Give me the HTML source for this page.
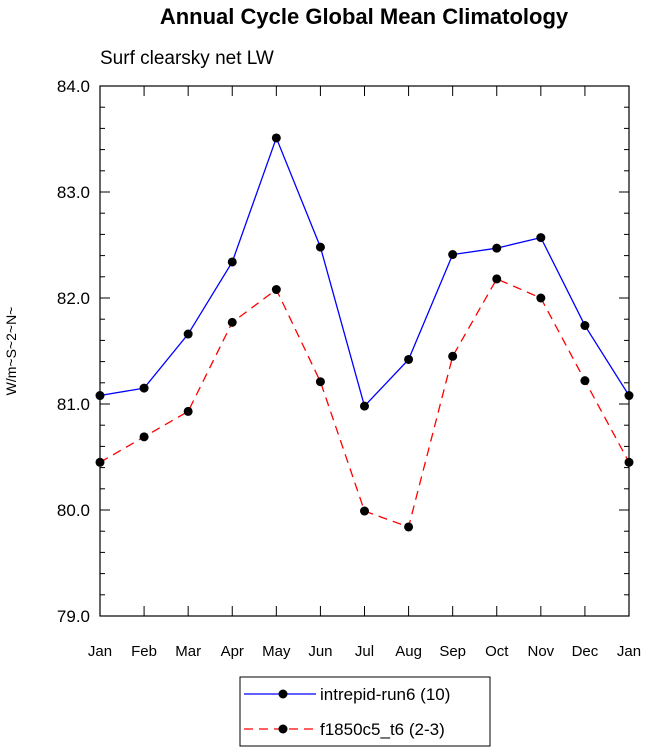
<!DOCTYPE html>
<html><head><meta charset="utf-8"><style>
body{margin:0;background:#fff;}
svg{display:block;font-family:"Liberation Sans",sans-serif;}
</style></head><body>
<svg id="chart" width="648" height="753">
<text x="364" y="24" text-anchor="middle" font-size="22" font-weight="bold">Annual Cycle Global Mean Climatology</text>
<text x="100" y="64" font-size="19">Surf clearsky net LW</text>
<text transform="translate(16,351) rotate(-90)" text-anchor="middle" font-size="14">W/m~S~2~N~</text>
<rect x="100" y="86" width="529" height="530" fill="none" stroke="#000" stroke-width="1.2"/>
<g id="axes"></g>
<g id="series"></g>
<g>
<rect x="240" y="677" width="250" height="69" fill="none" stroke="#000" stroke-width="1"/>
<g>
<line x1="244" y1="694" x2="316" y2="694" stroke="#0000ff" stroke-width="1.3"/>
<circle cx="283" cy="694" r="4.5" fill="#000"/>
<text x="320" y="700" font-size="17">intrepid-run6 (10)</text></g>
<g>
<line x1="244" y1="729" x2="316" y2="729" stroke="#ff0000" stroke-width="1.3" stroke-dasharray="9,6"/>
<circle cx="283" cy="729" r="4.5" fill="#000"/>
<text x="320" y="735" font-size="17">f1850c5_t6 (2-3)</text></g>
</g>
</svg>
<script>
const months=["Jan","Feb","Mar","Apr","May","Jun","Jul","Aug","Sep","Oct","Nov","Dec","Jan"];
const intrepid=[81.08,81.15,81.66,82.34,83.51,82.48,80.98,81.42,82.41,82.47,82.57,81.74,81.08];
const f1850=[80.45,80.69,80.93,81.77,82.08,81.21,79.99,79.84,81.45,82.18,82.00,81.22,80.45];
const yTicks=["79.0","80.0","81.0","82.0","83.0","84.0"];
const NS="http://www.w3.org/2000/svg";
const X0=100,X1=629,Y0=616,Y1=86,YMIN=79,YMAX=84;
const xs=i=>X0+(X1-X0)*i/(months.length-1);
const ys=v=>Y0-(v-YMIN)/(YMAX-YMIN)*(Y0-Y1);
function mk(t,a,p){const e=document.createElementNS(NS,t);for(const k in a)e.setAttribute(k,a[k]);p.appendChild(e);return e;}
const ax=document.getElementById("axes");
months.forEach((m,i)=>{
 const x=xs(i);
 mk("line",{x1:x,y1:Y0,x2:x,y2:Y0-10,stroke:"#000"},ax);
 mk("line",{x1:x,y1:Y1,x2:x,y2:Y1+10,stroke:"#000"},ax);
 const t=mk("text",{x:x,y:656,"text-anchor":"middle","font-size":"15"},ax);
 t.textContent=m;
 
 
});
for(let v=YMIN;v<=YMAX+1e-6;v+=0.2){
 const y=ys(v);const maj=Math.abs(v-Math.round(v))<1e-6;const L=maj?10:5;
 mk("line",{x1:X0,y1:y,x2:X0+L,y2:y,stroke:"#000"},ax);
 mk("line",{x1:X1,y1:y,x2:X1-L,y2:y,stroke:"#000"},ax);
}
yTicks.forEach(s=>{
 const t=mk("text",{x:90,y:ys(parseFloat(s))+6,"text-anchor":"end","font-size":"17"},ax);
 t.textContent=s;
 
 
});
const sg=document.getElementById("series");
function draw(vals,col,dash,name){
 const g=mk("g",{},sg);
 
 
 const a={points:vals.map((v,i)=>xs(i)+","+ys(v)).join(" "),fill:"none",stroke:col,"stroke-width":"1.3"};
 if(dash)a["stroke-dasharray"]=dash;
 mk("polyline",a,g);
 vals.forEach((v,i)=>{const c=mk("circle",{cx:xs(i),cy:ys(v),r:4.5,fill:"#000"},g);
  
  });
}
draw(f1850,"#ff0000","9,6","series-f1850c5");
draw(intrepid,"#0000ff",null,"series-intrepid");
</script>
</body></html>
